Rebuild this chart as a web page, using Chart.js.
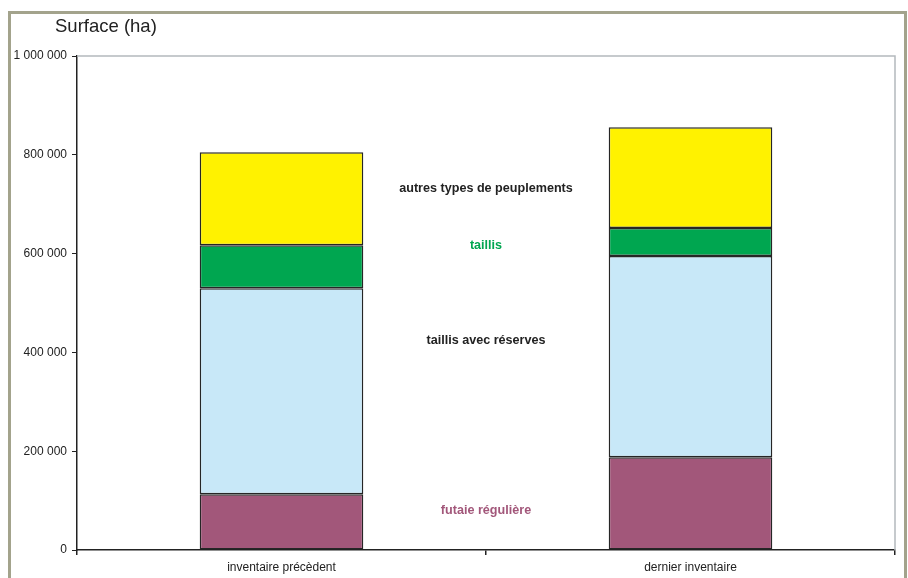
<!DOCTYPE html>
<html lang="fr">
<head>
    <meta charset="UTF-8">
    <title>Surface (ha)</title>
    <script src="https://cdn.jsdelivr.net/npm/chart.js"></script>
    <style>
        html, body {
            margin: 0;
            padding: 0;
            background: #fff;
        }
        .frame {
            position: absolute;
            left: 8px;
            top: 11px;
            width: 893px;
            height: 600px;
            border: 3px solid #a3a38c;
        }
        .chart-box {
            position: absolute;
            left: 0;
            top: 0;
            width: 908px;
            height: 578px;
        }
    </style>
</head>
<body>
    <div class="frame"></div>
    <div class="chart-box">
        <canvas id="surfaceChart"></canvas>
    </div>

    <script>
        // Inventory dates
        const categories = ['inventaire précèdent', 'dernier inventaire'];

        // Surface per stand type (ha)
        const futaieReguliere = [113000, 188000];
        const taillisAvecReserves = [417000, 407000];
        const taillis = [87000, 57000];
        const autresTypes = [188000, 204000];

        const yTicks = [0, 200000, 400000, 600000, 800000, 1000000];

        // Series names written in the gap between the two bars (y in ha)
        const seriesNames = ['futaie régulière', 'taillis avec réserves', 'taillis', 'autres types de peuplements'];
        const seriesNameY = [79000, 425000, 617000, 731000];
        const seriesNameColors = ['#a2577a', '#222222', '#00a650', '#222222'];

        const fontFamily = '"Liberation Sans", Arial, sans-serif';

        // Frame of the plot area + axis title + series names
        const decorations = {
            id: 'decorations',
            beforeDatasetsDraw(chart) {
                const { ctx, chartArea: a } = chart;
                ctx.save();
                ctx.strokeStyle = '#b4b9bd';
                ctx.lineWidth = 1.5;
                ctx.beginPath();
                ctx.moveTo(a.left, a.top);
                ctx.lineTo(a.right, a.top);
                ctx.lineTo(a.right, a.bottom);
                ctx.stroke();
                ctx.restore();
            },
            afterDraw(chart) {
                const { ctx } = chart;
                const x = chart.scales.x;
                const y = chart.scales.y;
                ctx.save();
                ctx.fillStyle = '#222';
                ctx.font = '18.5px ' + fontFamily;
                ctx.textAlign = 'left';
                ctx.textBaseline = 'alphabetic';
                ctx.fillText('Surface (ha)', 55, 32);

                ctx.font = 'bold 12.6px ' + fontFamily;
                ctx.textAlign = 'center';
                ctx.textBaseline = 'middle';
                const cx = x.getPixelForValue(0.5);
                seriesNames.forEach((name, i) => {
                    ctx.fillStyle = seriesNameColors[i];
                    ctx.fillText(name, cx, y.getPixelForValue(seriesNameY[i]));
                });
                ctx.restore();
            }
        };

        const barStyle = {
            borderColor: '#262626',
            borderWidth: 1.5,
            borderSkipped: false,
            barPercentage: 0.4,
            categoryPercentage: 1.0
        };

        new Chart(document.getElementById('surfaceChart'), {
            type: 'bar',
            data: {
                labels: categories,
                datasets: [
                    { label: seriesNames[0], data: futaieReguliere, backgroundColor: '#a2577a', ...barStyle },
                    { label: seriesNames[1], data: taillisAvecReserves, backgroundColor: '#c8e8f8', ...barStyle },
                    { label: seriesNames[2], data: taillis, backgroundColor: '#00a650', ...barStyle },
                    { label: seriesNames[3], data: autresTypes, backgroundColor: '#fff200', ...barStyle }
                ]
            },
            options: {
                responsive: true,
                maintainAspectRatio: false,
                animation: false,
                layout: {
                    padding: { left: 0, top: 56, right: 13, bottom: 0 }
                },
                plugins: {
                    legend: { display: false },
                    tooltip: { enabled: false }
                },
                scales: {
                    x: {
                        stacked: true,
                        offset: true,
                        afterFit(scale) { scale.height = 28; },
                        grid: {
                            offset: true,
                            drawOnChartArea: false,
                            drawTicks: true,
                            tickLength: 5,
                            color: '#222',
                            lineWidth: 1.5
                        },
                        border: { display: true, color: '#222', width: 1.5 },
                        ticks: {
                            color: '#222',
                            font: { family: fontFamily, size: 12 },
                            padding: 5,
                            maxRotation: 0
                        }
                    },
                    y: {
                        stacked: true,
                        min: 0,
                        max: 1000000,
                        afterFit(scale) { scale.width = 77; },
                        afterBuildTicks(scale) {
                            scale.ticks = yTicks.map(v => ({ value: v }));
                        },
                        grid: {
                            drawOnChartArea: false,
                            drawTicks: true,
                            tickLength: 5,
                            color: '#222',
                            lineWidth: 1
                        },
                        border: { display: true, color: '#222', width: 1.5 },
                        ticks: {
                            color: '#222',
                            font: { family: fontFamily, size: 12 },
                            padding: 5,
                            callback: v => String(v).replace(/\B(?=(\d{3})+(?!\d))/g, ' ')
                        }
                    }
                }
            },
            plugins: [decorations]
        });
    </script>
</body>
</html>
